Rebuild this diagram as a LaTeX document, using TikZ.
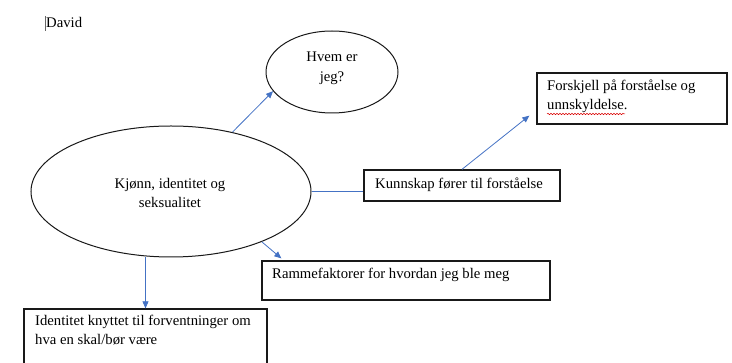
\documentclass[tikz,border=0pt]{standalone}
\usepackage{fontspec}
\setmainfont{Liberation Serif}
\usetikzlibrary{shapes.geometric,arrows.meta,calc,decorations.pathmorphing}
\definecolor{connblue}{RGB}{68,114,196}
\begin{document}
\begin{tikzpicture}[x=1pt,y=-1pt,
  box/.style={draw=black!90,line width=1.3pt,rectangle,inner sep=0pt},
  oval/.style={draw=black!90,line width=1pt,ellipse,inner sep=0pt},
  txt/.style={inner sep=0pt,anchor=base west,font=\fontsize{14.7}{19}\selectfont},
  ctxt/.style={inner sep=0pt,anchor=base,font=\fontsize{14.7}{19}\selectfont},
  conn/.style={draw=connblue,line width=0.8pt},
  arr/.style={conn,-{Triangle[length=7pt,width=6pt]}}]
\useasboundingbox (0,0) rectangle (732,363);
% title
\draw[black!60,line width=0.6pt] (45.5,16) -- (45.5,31);
\node[txt] (david) at (46,28) {David};
% ellipses
\node[oval,minimum width=280,minimum height=131] (big) at (171,191.5) {};
\node[ctxt] (bigA) at (170,189) {Kjønn, identitet og};
\node[ctxt] (bigB) at (170,208) {seksualitet};
\node[oval,minimum width=132,minimum height=82] (hvem) at (332,72) {};
\node[ctxt] (hvemA) at (332,62) {Hvem er};
\node[ctxt] (hvemB) at (332,82) {jeg?};
% boxes
\node[box,minimum width=196,minimum height=31] (kun) at (462,185.5) {};
\node[txt] (kunT) at (375,189) {Kunnskap fører til forståelse};
\node[box,minimum width=190,minimum height=51] (forsk) at (632,98.5) {};
\node[txt] (forskA) at (547,91) {Forskjell på forståelse og};
\node[txt] (forskB) at (547,110) {unnskyldelse.};
\node[box,minimum width=288,minimum height=39] (ramme) at (406,280.5) {};
\node[txt] (rammeT) at (272,279) {Rammefaktorer for hvordan jeg ble meg};
\node[box,minimum width=243,minimum height=59] (ident) at (145.5,338.5) {};
\node[txt] (identA) at (35,326) {Identitet knyttet til forventninger om};
\node[txt] (identB) at (35,345) {hva en skal/bør være};
% spell-check underline
\draw[red!85!black,line width=0.5pt,decorate,decoration={snake,segment length=3pt,amplitude=0.7pt}] (547,114) -- (625,114);
% connectors
\coordinate (tipF) at ($(forsk.south west)+(-7,-9)$);
\coordinate (tipR) at ($(ramme.north west)+(20,-2)$);
\draw[arr] (big.44) -- (hvem.198);
\draw[conn] (big.east) -- (big.east -| kun.west);
\draw[arr] (kun.north) -- (tipF);
\draw[arr] (big.-29.6) -- (tipR);
\draw[arr] (ident.north |- big.south) -- (ident.north);
\end{tikzpicture}
\end{document}
